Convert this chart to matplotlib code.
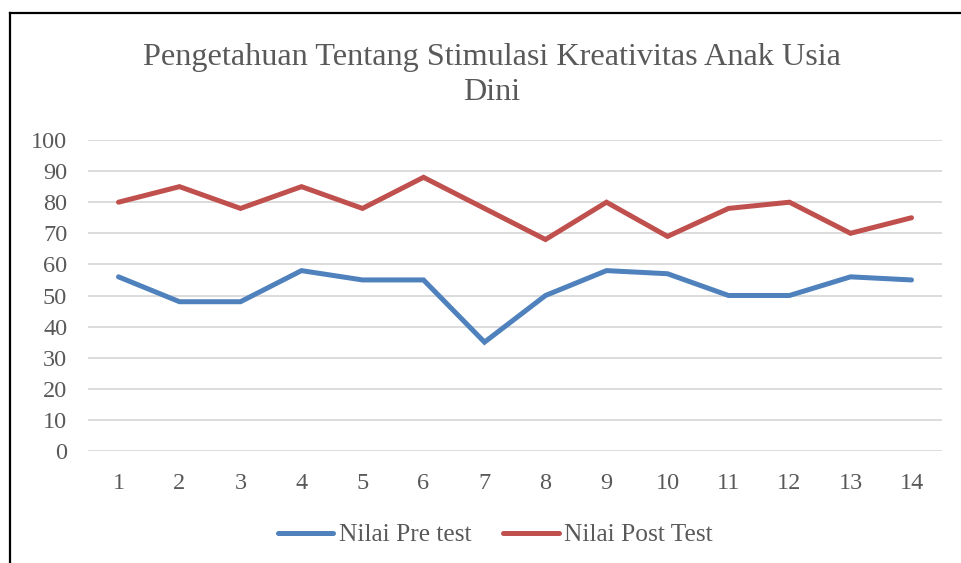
import matplotlib
matplotlib.use("Agg")
import matplotlib.pyplot as plt
from matplotlib.lines import Line2D

# data
students = list(range(1, 15))
pre_test = [56, 48, 48, 58, 55, 55, 35, 50, 58, 57, 50, 50, 56, 55]
post_test = [80, 85, 78, 85, 78, 88, 78, 68, 80, 69, 78, 80, 70, 75]
yticks = list(range(0, 101, 10))

title = "Pengetahuan Tentang Stimulasi Kreativitas Anak Usia\nDini"
label_pre = "Nilai Pre test"
label_post = "Nilai Post Test"

plt.rcParams['font.family'] = ['Liberation Serif', 'DejaVu Serif']
textcol = '#595959'
W, H = 961, 563

fig = plt.figure(figsize=(W / 100, H / 100), dpi=100)
fig.patch.set_facecolor('white')
ax = fig.add_axes([88 / W, 1 - 451 / H, (942 - 88) / W, (451 - 140) / H])

ax.plot(students, pre_test, color='#4F81BD', lw=3.6, solid_capstyle='round',
        solid_joinstyle='miter', label=label_pre, zorder=3)
ax.plot(students, post_test, color='#C0504D', lw=3.6, solid_capstyle='round',
        solid_joinstyle='miter', label=label_post, zorder=3)

ax.set_xlim(0.5, 14.5)
ax.set_ylim(0, 100)
ax.set_xticks(students)
ax.set_yticks(yticks)
ax.grid(axis='y', color='#d9d9d9', lw=1.3)
ax.set_axisbelow(True)
for s in ax.spines.values():
    s.set_visible(False)
ax.tick_params(axis='both', length=0, labelsize=17.5, labelcolor=textcol)
ax.tick_params(axis='y', pad=15)
ax.tick_params(axis='x', pad=16)

fig.text(492 / W, 1 - 75 / H, title, ha='center', va='center', fontsize=23.2,
         color=textcol, linespacing=1.3)

leg = ax.legend(loc='center', bbox_to_anchor=(495 / W, 1 - 535 / H),
                bbox_transform=fig.transFigure, ncol=2, frameon=False,
                fontsize=18.3, handlelength=2.2, handletextpad=0.2,
                columnspacing=1.25, borderaxespad=0)
for t in leg.get_texts():
    t.set_color(textcol)

# chart border (left and top edges visible)
fig.add_artist(Line2D([9.5 / W, 9.5 / W], [0, 1 - 12.5 / H], color='black', lw=1.6,
                      transform=fig.transFigure))
fig.add_artist(Line2D([9.5 / W, 1], [1 - 12.5 / H, 1 - 12.5 / H], color='black', lw=1.6,
                      transform=fig.transFigure))

fig.savefig('out.png', dpi=100)
